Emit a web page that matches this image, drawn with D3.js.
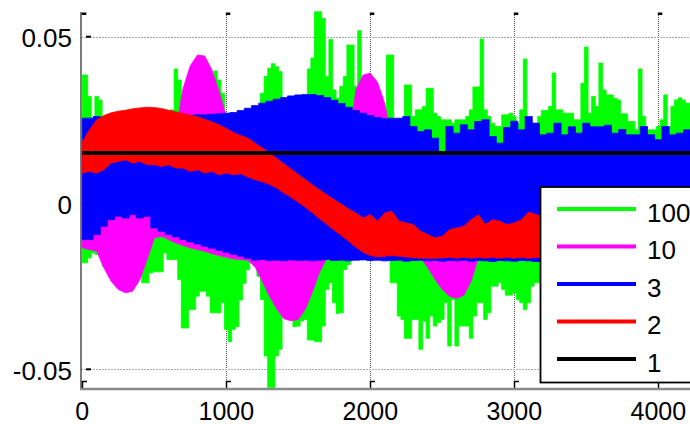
<!DOCTYPE html>
<html>
<head>
<meta charset="utf-8">
<script src="https://cdn.jsdelivr.net/npm/d3@7/dist/d3.min.js"></script>
<style>
  body { margin: 0; background: #fff; overflow: hidden; }
  svg { display: block; font-family: "Liberation Sans", Arial, sans-serif; }
</style>
</head>
<body>
<div id="chart"></div>
<script>
// Data: envelopes (max / min) of each signal, in units of 1e-3
const MILLI = 1e-3;
const coarseStep = 50;   // sample spacing of the 10, 3 and 2 envelopes
const fineStep = 25;     // sample spacing of the 100 envelope

const greenHi = [
  38.5, 38.5, 32, 25, 32, 31, 26, 26, 26, 26, 26, 26, 26, 26, 26, 26, 26, 26, 26, 26,
  26, 26, 26, 26, 26, 28, 40.3, 37, 30, 30, 30, 30, 30, 30, 30, 30, 30, 39.7, 37, 33,
  27, 26.5, 26.5, 26.5, 26.5, 26.5, 26.5, 26.5, 26.5, 26.5, 33, 38, 40.5, 41.9, 41, 39.5, 31, 31, 31, 31,
  31, 31, 31, 40.3, 43.6, 57.5, 57.5, 55.5, 38, 49.2, 34, 31.5, 35, 38, 47.5, 47.5, 35, 51.8, 36, 30,
  30, 30, 30, 28, 25, 44.5, 44.5, 25, 25, 25, 35.5, 35.5, 26, 28, 28, 29, 34.5, 34.5, 27, 26,
  25, 25, 25, 24, 25, 25, 25, 26, 28, 34.9, 34.9, 49.3, 28, 26, 24, 23, 23, 26.5, 26.5, 27,
  26, 24, 28, 43.3, 25, 24, 24, 26, 27.8, 27.8, 29, 39.1, 28, 28, 27, 27, 27, 25, 25, 36,
  46.9, 27, 32, 29, 42.1, 34, 32.5, 32.5, 31.5, 31, 26.8, 26.8, 24.5, 24.5, 22, 40.3, 26, 22, 22, 22,
  23, 25, 32.5, 23, 29, 31, 31.6, 31, 30, 30
];
const greenLo = [
  -18, -18, -16.5, -15, -15.5, -16, -19, -19, -19, -19, -19, -19, -19, -19, -19, -19, -21, -24, -24, -21,
  -20.7, -20.7, -20.7, -15, -17, -17, -17, -23, -37.6, -37.6, -32, -32, -28, -26.5, -26.5, -28, -33, -33, -33, -30,
  -38, -41.7, -38, -37.2, -29.2, -24.1, -20, -18, -19, -22, -29, -46, -55.5, -55.5, -46, -44, -33, -34, -35, -37.2,
  -37, -35.5, -35, -41.2, -41.2, -41.7, -41.7, -37, -26, -24, -30, -33.2, -33, -20, -18.5, -17, -17, -17, -17, -17,
  -17, -17, -17, -17, -17, -17, -24, -24, -34, -35, -40.7, -40.7, -35, -35, -44, -35.5, -40.7, -34, -37, -36,
  -35, -30, -43, -29, -43, -37, -37, -37, -40.7, -34, -30, -30, -35, -33, -25, -25, -24, -26, -27.7, -27.7,
  -27, -29, -30, -32, -30, -25, -24, -24, -26, -28, -24, -30, -25, -27, -24, -29, -26, -25, -28, -24,
  -27, -25, -29, -24, -26, -28, -25, -30, -24, -27, -26, -25, -28, -24, -27, -25, -29, -26, -24, -27,
  -25, -28, -24, -26, -27, -25, -29, -24, -26, -25
];

const magentaHi = [
  18, 18, 18, 18, 18, 18, 18, 18, 18, 18, 18, 18, 18, 22, 34.5, 41.3, 44.5, 44.2, 40, 33.5, 26,
  19, 18, 18, 18, 18, 18, 18, 18, 18, 18, 18, 18, 18, 18, 18, 18, 18, 34, 38.5, 39,
  36.3, 30, 19, 17, 17, 17, 17, 17, 15, 13, 15, 17, 17, 17, 17, 17, 17, 17, 17, 17,
  17, 17, 17, 17, 17, 17, 17, 17, 17, 17, 17, 17, 17, 17, 17, 17, 17, 17, 17, 17,
  17, 17, 17, 17, 17
];
const magentaLo = [
  -13.5, -14, -14.5, -19.5, -23.5, -26, -27, -26.5, -23, -17, -10.5, -10, -11, -12, -12.8, -13.5, -14, -14.5, -15.2, -15.8, -16.3,
  -16.8, -17, -17.2, -19.2, -23.6, -28, -31.8, -34.8, -35.4, -35, -31.8, -26.5, -20.5, -16.5, -16.5, -16.5, -16.5, -16.5, -16.5, -16.5,
  -16.5, -16.5, -16.5, -16.5, -16.5, -16.5, -16.5, -19.5, -23, -26, -28, -28.7, -27.7, -23.5, -16.5, -16.5, -16.5, -16.5, -16.5, -16.5,
  -16.5, -16.5, -16.5, -16.5, -16.5, -16.5, -16.5, -16.5, -16.5, -16.5, -16.5, -16.5, -16.5, -16.5, -16.5, -16.5, -16.5, -16.5, -16.5, -16.5,
  -16.5, -16.5, -16.5, -16.5, -16.5
];

const blueHi = [
  25.5, 25.5, 26, 25.5, 26, 25.5, 26, 26, 26, 26, 26, 26, 26, 26, 26, 26.3, 26.5, 26.5, 26.7, 26.8, 27,
  27.2, 27.8, 28.5, 29.3, 30, 30.6, 31.2, 31.7, 32.2, 32.5, 32.6, 32.6, 32.3, 31.7, 30.9, 29.9, 28.8, 27.8, 27, 26.3,
  25.7, 25.3, 25.5, 25.5, 26, 23, 21.5, 22, 19.5, 15.5, 23, 21, 23.5, 22, 24.5, 25, 20, 18, 22.7, 24.6,
  22, 26, 24, 20.5, 21, 24, 20.5, 22.9, 21, 24, 22.9, 22.9, 23.4, 21, 22.1, 20.5, 20.5, 23, 20.5, 19,
  23, 20.5, 21, 22, 21
];
const blueLo = [
  -11, -11, -9.5, -7, -5, -4, -4.5, -3.5, -4.5, -4, -7.5, -8.5, -9.5, -10.2, -11, -11.7, -12.3, -13, -13.6, -14.2, -14.8,
  -15.4, -16, -16.6, -17.2, -17, -17.3, -17.2, -17.4, -17.1, -17.3, -17.2, -17.4, -17.2, -17, -17.3, -17.2, -17.4, -17.2, -17.1, -17.3,
  -17.2, -17.4, -17.3, -17.2, -17.5, -17.3, -17.2, -17.4, -17.3, -17.5, -17.3, -17.4, -17.2, -17.5, -17.3, -17.4, -17.6, -17.3, -17.4, -17.5,
  -17.3, -17.4, -17.6, -17.4, -17.3, -17.5, -17.4, -17.6, -17.3, -17.5, -17.4, -17.6, -17.3, -17.5, -17.4, -17.6, -17.4, -17.5, -17.3, -17.6,
  -17.4, -17.5, -17.3, -17.6, -17.4
];

const redHi = [
  18.5, 22, 25, 26.3, 27.1, 27.6, 27.9, 28.3, 28.6, 28.8, 28.7, 28.4, 27.9, 27.4, 26.9, 26.4, 25.9, 25.2, 24.4, 23.5, 22.4,
  21.2, 20.3, 19.5, 18, 16.6, 15, 13.4, 11.8, 10.2, 8.6, 7, 5.4, 3.9, 2.4, 1, -0.4, -1.8, -3, -4.5, -3.5,
  -5.5, -3, -2.5, -5.5, -6, -6.5, -8.5, -9.5, -10.5, -10, -8, -7.5, -7, -5, -3.6, -6.5, -5, -5.5, -6.5, -6,
  -5, -2.7, -3.5, -4, -5, -4.5, -5.5, -4, -5, -4.5, -5, -4, -5.5, -4.5, -5, -4, -5, -4.5, -5.5, -4,
  -5, -4.5, -5, -4.5, -5
];
const redLo = [
  9, 9.5, 9, 10, 12, 12.5, 13, 12, 12.5, 11.5, 11.5, 11, 11.5, 10.5, 10.5, 9.5, 10, 9, 9.5, 8.5, 9,
  8.5, 8.8, 7.8, 7, 6.4, 5.6, 4.5, 3, 1.7, 0.2, -1.3, -3, -4.8, -6.5, -8.2, -9.8, -11.5, -13.3, -14.8, -15.8,
  -16.2, -16, -15.8, -16, -16.2, -16.4, -16.6, -16.6, -16.6, -16.5, -16.3, -16.6, -16.3, -16.6, -16.3, -16.6, -16.3, -16.6, -16.3, -16.6,
  -16.3, -16.6, -16.3, -16.6, -16.3, -16.6, -16.3, -16.6, -16.3, -16.6, -16.3, -16.6, -16.3, -16.6, -16.3, -16.6, -16.3, -16.6, -16.3, -16.6,
  -16.3, -16.6, -16.3, -16.6, -16.3
];

const blackLevel = 15.0;
const blackRange = [0, 4250];

const seriesNames = ["100", "10", "3", "2", "1"];
const seriesColors = ["#00ff00", "#ff00ff", "#0000ff", "#ff0000", "#000000"];

const xTickValues = [0, 1000, 2000, 3000, 4000];
const xTickLabels = ["0", "1000", "2000", "3000", "4000"];
const yTickValues = [-0.05, 0, 0.05];
const yTickLabels = ["-0.05", "0", "0.05"];

function drawChart(containerId) {
    const width = 690, height = 424;
    const plot = { left: 81, top: 11, right: 690, bottom: 388 };

    const svg = d3.select(`#${containerId}`)
        .append("svg")
        .attr("width", width)
        .attr("height", height);

    svg.append("rect")
        .attr("width", width)
        .attr("height", height)
        .attr("fill", "#fff");

    // Scales
    const x = d3.scaleLinear().domain([0, 4000]).range([82.3, 658.3]);
    const y = d3.scaleLinear().domain([-0.05, 0.05]).range([369.3, 36.7]);

    svg.append("clipPath")
        .attr("id", "plot-clip")
        .append("rect")
        .attr("x", plot.left)
        .attr("y", plot.top)
        .attr("width", plot.right - plot.left)
        .attr("height", plot.bottom - plot.top);

    // Grid (under the data, like matlab)
    const grid = svg.append("g");
    grid.selectAll(".vgrid")
        .data(xTickValues.slice(1))
        .join("line")
        .attr("x1", d => Math.round(x(d)) + 0.5)
        .attr("x2", d => Math.round(x(d)) + 0.5)
        .attr("y1", 13)
        .attr("y2", plot.bottom)
        .attr("stroke", "#555")
        .attr("stroke-dasharray", "1,1");

    grid.selectAll(".hgrid")
        .data(yTickValues)
        .join("line")
        .attr("x1", plot.left)
        .attr("x2", plot.right)
        .attr("y1", d => Math.round(y(d)) + 0.5)
        .attr("y2", d => Math.round(y(d)) + 0.5)
        .attr("stroke", "#aaa")
        .attr("stroke-dasharray", "2,1");

    // Tick marks
    grid.selectAll(".ttick")
        .data(xTickValues)
        .join("rect")
        .attr("x", d => x(d) - 0.5)
        .attr("y", 12.5)
        .attr("width", 4.5)
        .attr("height", 2.5)
        .attr("fill", "#000");

    grid.selectAll(".btick")
        .data(xTickValues)
        .join("path")
        .attr("d", d => `M${Math.round(x(d)) + 0.5},388 V381.5 H${Math.round(x(d)) + 5}`)
        .attr("fill", "none")
        .attr("stroke", "#000")
        .attr("stroke-width", 1.5);

    grid.selectAll(".ytick")
        .data(yTickValues)
        .join("line")
        .attr("x1", 86)
        .attr("x2", 91)
        .attr("y1", d => y(d))
        .attr("y2", d => y(d))
        .attr("stroke", "#000")
        .attr("stroke-width", 2);

    // Axis lines
    svg.append("line")
        .attr("x1", 81).attr("x2", 81)
        .attr("y1", 12).attr("y2", 389)
        .attr("stroke", "#222")
        .attr("stroke-width", 1.2);

    // Signals, each drawn as its min/max band
    const bands = [
        { hi: greenHi, lo: greenLo, step: fineStep, curve: d3.curveStep },
        { hi: magentaHi, lo: magentaLo, step: coarseStep, curve: d3.curveLinear },
        { hi: blueHi, lo: blueLo, step: coarseStep, curve: d3.curveStep },
        { hi: redHi, lo: redLo, step: coarseStep, curve: d3.curveLinear }
    ];

    const dataLayer = svg.append("g").attr("clip-path", "url(#plot-clip)");

    bands.forEach((b, k) => {
        const area = d3.area()
            .x((d, i) => x(i * b.step))
            .y0((d, i) => y(b.lo[i] * MILLI))
            .y1(d => y(d * MILLI))
            .curve(b.curve);

        dataLayer.append("path")
            .datum(b.hi)
            .attr("d", area)
            .attr("fill", seriesColors[k])
            .attr("stroke", seriesColors[k])
            .attr("stroke-width", 0.8);
    });

    dataLayer.append("line")
        .attr("x1", x(blackRange[0]))
        .attr("x2", x(blackRange[1]))
        .attr("y1", y(blackLevel * MILLI))
        .attr("y2", y(blackLevel * MILLI))
        .attr("stroke", seriesColors[4])
        .attr("stroke-width", 4);

    // Bottom axis line
    svg.append("line")
        .attr("x1", 80).attr("x2", width)
        .attr("y1", 389).attr("y2", 389)
        .attr("stroke", "#8a8a8a")
        .attr("stroke-width", 2.5);

    // Tick labels
    svg.selectAll(".xlab")
        .data(xTickValues)
        .join("text")
        .attr("x", d => x(d))
        .attr("y", 419.5)
        .attr("text-anchor", "middle")
        .style("font-size", "25px")
        .text((d, i) => xTickLabels[i]);

    svg.selectAll(".ylab")
        .data(yTickValues)
        .join("text")
        .attr("x", 72)
        .attr("y", d => y(d) + 10.5)
        .attr("text-anchor", "end")
        .style("font-size", "26px")
        .text((d, i) => yTickLabels[i]);

    // Legend
    const legend = svg.append("g");
    legend.append("rect")
        .attr("x", 540.5)
        .attr("y", 187)
        .attr("width", 170)
        .attr("height", 195.5)
        .attr("fill", "#fff")
        .attr("stroke", "#000")
        .attr("stroke-width", 1.8);

    const rowY = i => 209 + i * 37.5;
    legend.selectAll(".lline")
        .data(seriesNames)
        .join("line")
        .attr("x1", 557)
        .attr("x2", 636)
        .attr("y1", (d, i) => rowY(i))
        .attr("y2", (d, i) => rowY(i))
        .attr("stroke", (d, i) => seriesColors[i])
        .attr("stroke-width", 4);

    legend.selectAll(".ltext")
        .data(seriesNames)
        .join("text")
        .attr("x", 647)
        .attr("y", (d, i) => rowY(i) + 12.5)
        .style("font-size", "26px")
        .text(d => d);
}

drawChart("chart");
</script>
</body>
</html>
